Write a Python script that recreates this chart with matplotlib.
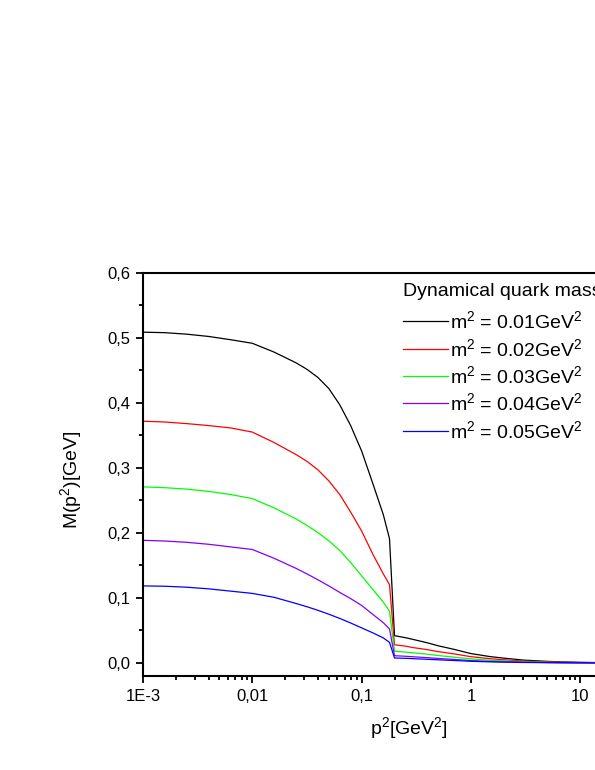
import matplotlib
matplotlib.use("Agg")
import matplotlib.pyplot as plt
from matplotlib.ticker import FixedLocator, LogLocator, MultipleLocator, FixedFormatter

plt.rcParams['font.family'] = ['Liberation Sans', 'DejaVu Sans']
plt.rcParams['mathtext.fontset'] = 'custom'
plt.rcParams['mathtext.rm'] = 'Liberation Sans'
plt.rcParams['mathtext.it'] = 'Liberation Sans:italic'

# ---- data ----
p2 = [0.001, 0.00158, 0.00251, 0.00398, 0.00631, 0.01, 0.0158, 0.0251, 0.0316,
      0.0398, 0.0501, 0.0631, 0.0794, 0.1, 0.126, 0.158, 0.18, 0.2, 0.25, 0.3,
      0.4, 0.5, 0.7, 1, 1.5, 2, 3, 5, 7, 10, 15, 20]
M_m001 = [0.5086, 0.5078, 0.5055, 0.502, 0.497, 0.4915, 0.478, 0.4615, 0.4515,
          0.439, 0.422, 0.397, 0.365, 0.326, 0.277, 0.228, 0.191, 0.042, 0.039,
          0.036, 0.031, 0.0265, 0.021, 0.0145, 0.0098, 0.0075, 0.0045, 0.0025,
          0.0016, 0.0010, 0.0006, 0.0004]
M_m002 = [0.3717, 0.3705, 0.368, 0.365, 0.3614, 0.355, 0.339, 0.3205, 0.310,
          0.297, 0.280, 0.259, 0.232, 0.203, 0.168, 0.137, 0.1205, 0.028, 0.026,
          0.0235, 0.0205, 0.0175, 0.014, 0.0097, 0.0066, 0.005, 0.003, 0.0017,
          0.0011, 0.0007, 0.0004, 0.0003]
M_m003 = [0.2708, 0.2695, 0.2673, 0.2638, 0.259, 0.2528, 0.2385, 0.2215, 0.2115,
          0.2005, 0.188, 0.173, 0.1545, 0.134, 0.1135, 0.0935, 0.0797, 0.018,
          0.0168, 0.0155, 0.0135, 0.0115, 0.009, 0.0063, 0.0042, 0.0032, 0.002,
          0.0011, 0.0007, 0.0005, 0.0003, 0.0002]
M_m004 = [0.1886, 0.1875, 0.1855, 0.1825, 0.1785, 0.1745, 0.161, 0.1455, 0.137,
          0.128, 0.1185, 0.1085, 0.099, 0.0885, 0.075, 0.062, 0.0523, 0.0112,
          0.0104, 0.0095, 0.0082, 0.007, 0.0055, 0.0037, 0.0025, 0.0019, 0.0012,
          0.0007, 0.0004, 0.0003, 0.0002, 0.0001]
M_m005 = [0.1185, 0.118, 0.1165, 0.114, 0.1105, 0.107, 0.101, 0.0915, 0.0865,
          0.081, 0.075, 0.0685, 0.0615, 0.054, 0.0465, 0.0385, 0.0317, 0.0077,
          0.0072, 0.0066, 0.0057, 0.0049, 0.0038, 0.0026, 0.0017, 0.0013, 0.0008,
          0.0005, 0.0003, 0.0002, 0.0001, 0.0001]

series = [M_m001, M_m002, M_m003, M_m004, M_m005]
labels = ["m$^2$ = 0.01GeV$^2$", "m$^2$ = 0.02GeV$^2$", "m$^2$ = 0.03GeV$^2$",
          "m$^2$ = 0.04GeV$^2$", "m$^2$ = 0.05GeV$^2$"]
colors = ["#000000", "#ff0000", "#00ff00", "#8000ff", "#0000ff"]

xticks = [0.001, 0.01, 0.1, 1, 10]
xticklabels = ["1E-3", "0,01", "0,1", "1", "10"]
yticks = [0.0, 0.1, 0.2, 0.3, 0.4, 0.5, 0.6]
yticklabels = ["0,0", "0,1", "0,2", "0,3", "0,4", "0,5", "0,6"]

W, H = 595, 770
fig = plt.figure(figsize=(W / 100, H / 100), dpi=100)

x_left, x_right = 143, 689.5
y_top, y_bot = 272.7, 676
ax = fig.add_axes([x_left / W, 1 - y_bot / H, (x_right - x_left) / W, (y_bot - y_top) / H])

for ys, lab, c in zip(series, labels, colors):
    ax.plot(p2, ys, color=c, lw=0.9, label=lab)

ax.set_xscale('log')
ax.set_xlim(0.001, 100)
ax.set_ylim(-0.02, 0.6)

ax.xaxis.set_major_locator(FixedLocator(xticks))
ax.xaxis.set_major_formatter(FixedFormatter(xticklabels))
ax.xaxis.set_minor_locator(LogLocator(base=10, subs=range(2, 10), numticks=20))
ax.yaxis.set_major_locator(FixedLocator(yticks))
ax.yaxis.set_major_formatter(FixedFormatter(yticklabels))
ax.yaxis.set_minor_locator(MultipleLocator(0.05))

for s in ['top', 'bottom', 'left', 'right']:
    ax.spines[s].set_linewidth(1.5)

ax.tick_params(which='major', direction='out', length=5, width=1.3, labelsize=12, pad=4)
ax.tick_params(which='minor', direction='out', length=3, width=1.3)
ax.tick_params(axis='x', which='major', pad=4.5)
ax.tick_params(top=False, right=False, which='both')

fig.text(71 / W, 1 - 480 / H, "M(p$^2$)[GeV]", rotation=90, ha='center', va='center', fontsize=14)
fig.text(409 / W, 1 - 734.3 / H, "p$^2$[GeV$^2$]", ha='center', va='baseline', fontsize=14)

leg = ax.legend(loc='upper left', bbox_to_anchor=(403 / W, 1 - 283.5 / H),
                bbox_transform=fig.transFigure, frameon=False, fontsize=14,
                title="Dynamical quark mass", title_fontsize=14, alignment='left',
                handlelength=2.3, handletextpad=0.1, labelspacing=0.28,
                borderpad=0, borderaxespad=0)
leg._legend_box.sep = 7.1

fig.savefig("out.png", dpi=100)
